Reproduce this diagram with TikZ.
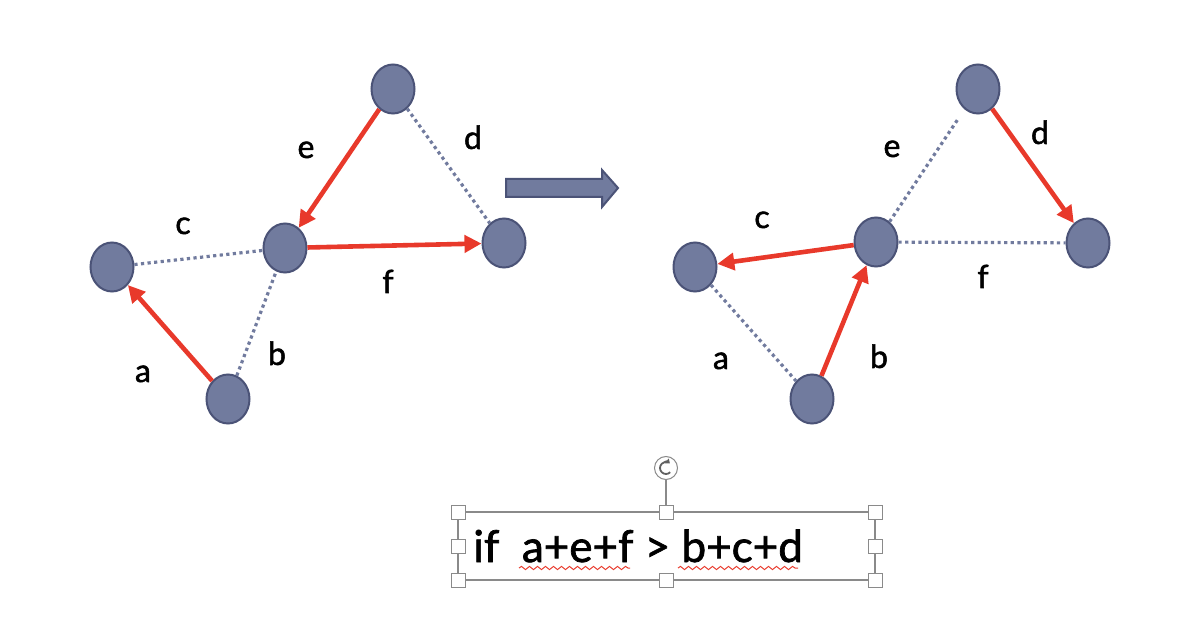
\documentclass[tikz,border=0pt]{standalone}
\usepackage{fontspec}
\setmainfont{Lato}[FakeBold=1.6,AutoFakeBold=1.6]
\usetikzlibrary{shapes.geometric,arrows.meta,decorations.pathmorphing}
\definecolor{nodefill}{HTML}{717B9E}
\definecolor{nodeline}{HTML}{4B5377}
\definecolor{arrowred}{HTML}{E8392B}
\definecolor{handleline}{HTML}{8A8A8A}
\tikzset{
	vertex/.style={ellipse,draw=nodeline,fill=nodefill,line width=1pt,minimum width=21.5pt,minimum height=24.5pt,inner sep=0pt},
	redarrow/.style={draw=arrowred,line width=2.3pt,-{Triangle[length=8.5pt,width=8.5pt]}},
	dotedge/.style={draw=nodefill,line width=1.6pt,dash pattern=on 1.6pt off 1.7pt},
	lbl/.style={anchor=base,font=\bfseries\fontsize{16}{18}\selectfont,inner sep=0pt},
	handle/.style={draw=handleline,fill=white,line width=0.5pt,minimum size=7pt,inner sep=0pt},
	squiggle/.style={draw=arrowred,line width=0.5pt,decorate,decoration={snake,segment length=4pt,amplitude=0.8pt}}
}
\begin{document}
\begin{tikzpicture}[x=0.5pt,y=-0.5pt]
	\useasboundingbox (0,0) rectangle (1200,620);
	% left graph
	\node[vertex] (L1) at (112,267) {};
	\node[vertex] (M1) at (285,248) {};
	\node[vertex] (T1) at (393,89) {};
	\node[vertex] (R1) at (504,243) {};
	\node[vertex] (B1) at (228,399) {};
	\draw[dotedge] (L1) -- (M1);
	\draw[dotedge] (B1) -- (M1);
	\draw[dotedge] (T1) -- (R1);
	\draw[redarrow] (B1) -- (L1);
	\draw[redarrow] (T1) -- (M1);
	\draw[redarrow] (M1) -- (R1);
	\node[lbl] (a1) at (143,382) {a};
	\node[lbl] (b1) at (277,365) {b};
	\node[lbl] (c1) at (183,234) {c};
	\node[lbl] (d1) at (473,149) {d};
	\node[lbl] (e1) at (306,158) {e};
	\node[lbl] (f1) at (388,293) {f};
	% block arrow
	\draw[draw=nodeline,fill=nodefill,line width=1pt] (506,179) -- (602,179) -- (602,170) -- (618,188) -- (602,207) -- (602,197) -- (506,197) -- cycle;
	% right graph
	\node[vertex] (L2) at (695,267) {};
	\node[vertex] (M2) at (876,242) {};
	\node[vertex] (T2) at (978,89) {};
	\node[vertex] (R2) at (1088,243) {};
	\node[vertex] (B2) at (812,399) {};
	\draw[dotedge] (L2) -- (B2);
	\draw[dotedge,shorten >=5pt] (M2) -- (T2);
	\draw[dotedge] (M2) -- (R2);
	\draw[redarrow] (B2) -- (M2);
	\draw[redarrow] (M2) -- (L2);
	\draw[redarrow] (T2) -- (R2);
	\node[lbl] (a2) at (721,369) {a};
	\node[lbl] (b2) at (879,368) {b};
	\node[lbl] (c2) at (762,228) {c};
	\node[lbl] (d2) at (1040,144) {d};
	\node[lbl] (e2) at (892,157) {e};
	\node[lbl] (f2) at (983,288) {f};
	% text box
	\draw[handleline,line width=0.6pt] (458,512) rectangle (875,580);
	\node[draw=handleline,fill=white,circle,line width=0.5pt,minimum size=11.5pt,inner sep=0pt] (rot) at (666,468) {};
	\draw[handleline,line width=0.6pt] (rot) -- (666,512);
	\draw[handleline!70!black,line width=0.9pt,-{Triangle[length=2pt,width=3pt]}] (666,468) ++(45:6) arc[start angle=45,end angle=310,radius=6];
	\foreach \x/\y in {458/512,666/512,875/512,458/546,875/546,458/580,666/580,875/580}
		\node[handle] at (\x,\y) {};
	\node[anchor=base west,inner sep=0pt,font=\bfseries\fontsize{22}{26}\selectfont] (cond) at (473,562) {if\ \ a+e+f > b+c+d};
	\draw[squiggle] (519,568) -- (630,568);
	\draw[squiggle] (678,568) -- (798,568);
\end{tikzpicture}
\end{document}
